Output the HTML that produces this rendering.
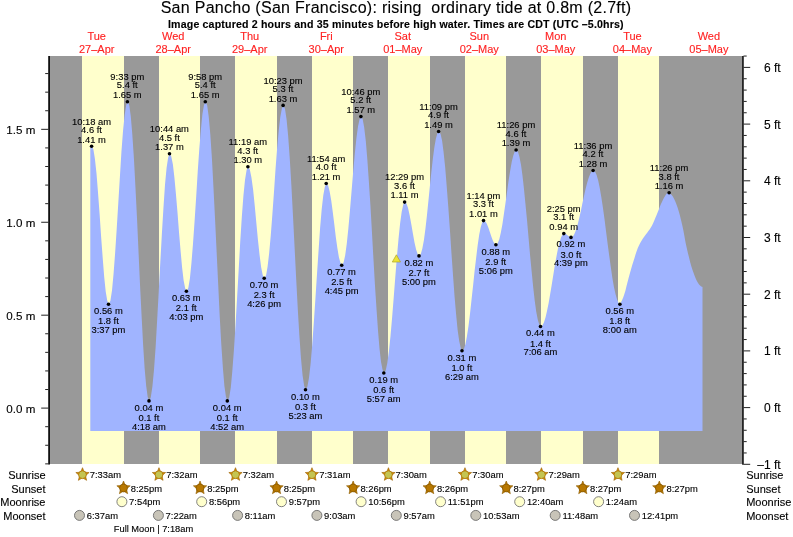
<!DOCTYPE html><html><head><meta charset="utf-8"><title>San Pancho tide chart</title><style>html,body{margin:0;padding:0;background:#fff}svg{display:block}text{font-family:"Liberation Sans",Arial,Helvetica,sans-serif;fill:#000;stroke:#000;stroke-width:0.12px}</style></head><body>
<svg width="793" height="537" viewBox="0 0 793 537">
<rect width="793" height="537" fill="#fff"/>
<rect x="50" y="56" width="693" height="408" fill="#999"/>
<rect x="82" y="56" width="42" height="408" fill="#ffffcc"/>
<rect x="159" y="56" width="41" height="408" fill="#ffffcc"/>
<rect x="235" y="56" width="42" height="408" fill="#ffffcc"/>
<rect x="312" y="56" width="41" height="408" fill="#ffffcc"/>
<rect x="388" y="56" width="42" height="408" fill="#ffffcc"/>
<rect x="465" y="56" width="41" height="408" fill="#ffffcc"/>
<rect x="541" y="56" width="42" height="408" fill="#ffffcc"/>
<rect x="618" y="56" width="41" height="408" fill="#ffffcc"/>
<path d="M90.3 431.0 L90.3 146.2 L91.9 146.2 L93.4 149.4 L94.9 158.8 L96.5 173.5 L98.0 192.4 L99.6 213.9 L101.1 236.4 L102.7 258.0 L104.2 276.9 L105.7 291.6 L107.3 301.0 L108.8 304.2 L110.4 300.7 L112.0 290.6 L113.5 274.5 L115.1 253.5 L116.7 229.1 L118.3 202.9 L119.9 176.7 L121.4 152.3 L123.0 131.3 L124.6 115.2 L126.2 105.1 L127.7 101.6 L129.3 105.4 L130.8 116.4 L132.3 134.3 L133.9 157.9 L135.4 186.3 L137.0 217.9 L138.5 251.2 L140.0 284.5 L141.6 316.1 L143.1 344.5 L144.6 368.1 L146.2 386.0 L147.7 397.0 L149.3 400.8 L150.8 397.2 L152.4 386.6 L154.0 369.7 L155.6 347.4 L157.1 321.0 L158.7 292.1 L160.3 262.3 L161.9 233.4 L163.5 207.0 L165.0 184.7 L166.6 167.8 L168.2 157.2 L169.8 153.7 L171.3 156.4 L172.9 164.6 L174.4 177.4 L175.9 193.8 L177.5 212.6 L179.0 232.2 L180.6 251.0 L182.1 267.4 L183.6 280.2 L185.2 288.4 L186.7 291.1 L188.3 287.9 L189.9 278.5 L191.4 263.4 L193.0 243.8 L194.6 220.9 L196.2 196.4 L197.7 171.9 L199.3 149.0 L200.9 129.4 L202.4 114.3 L204.0 104.9 L205.6 101.6 L207.2 105.4 L208.7 116.4 L210.3 134.3 L211.9 157.9 L213.4 186.3 L215.0 217.9 L216.6 251.2 L218.2 284.5 L219.7 316.1 L221.3 344.5 L222.9 368.1 L224.4 386.0 L226.0 397.0 L227.6 400.8 L229.2 397.4 L230.8 387.4 L232.3 371.3 L233.9 350.2 L235.5 325.2 L237.1 297.8 L238.7 269.6 L240.2 242.2 L241.8 217.2 L243.4 196.1 L245.0 180.1 L246.6 170.1 L248.2 166.7 L249.8 169.4 L251.4 177.3 L253.1 189.6 L254.7 205.2 L256.3 222.4 L257.9 239.6 L259.6 255.2 L261.2 267.5 L262.8 275.4 L264.5 278.1 L266.1 275.2 L267.6 266.6 L269.2 252.8 L270.8 234.9 L272.4 214.1 L274.0 191.7 L275.5 169.4 L277.1 148.5 L278.7 130.7 L280.3 116.9 L281.9 108.3 L283.4 105.3 L285.0 108.9 L286.6 119.4 L288.2 136.4 L289.8 158.9 L291.4 185.8 L293.0 215.9 L294.6 247.5 L296.2 279.1 L297.8 309.2 L299.4 336.1 L301.0 358.6 L302.6 375.5 L304.2 386.1 L305.8 389.6 L307.4 386.6 L309.0 377.8 L310.6 363.7 L312.2 345.1 L313.8 323.1 L315.4 298.9 L317.0 274.1 L318.6 249.9 L320.1 227.9 L321.7 209.3 L323.3 195.2 L324.9 186.4 L326.5 183.4 L328.1 185.4 L329.6 191.2 L331.2 200.2 L332.7 211.6 L334.3 224.3 L335.8 236.9 L337.4 248.3 L338.9 257.3 L340.5 263.1 L342.0 265.1 L343.6 262.6 L345.2 255.2 L346.8 243.4 L348.4 228.0 L350.0 210.0 L351.6 190.8 L353.2 171.6 L354.8 153.7 L356.4 138.3 L358.0 126.5 L359.6 119.0 L361.2 116.5 L362.7 119.3 L364.2 127.6 L365.8 141.0 L367.3 158.9 L368.8 180.6 L370.4 205.1 L371.9 231.3 L373.4 258.1 L374.9 284.3 L376.5 308.8 L378.0 330.5 L379.5 348.4 L381.0 361.8 L382.6 370.1 L384.1 372.9 L385.7 370.4 L387.3 363.1 L388.9 351.4 L390.5 336.0 L392.1 317.7 L393.7 297.7 L395.3 277.1 L396.9 257.1 L398.5 238.9 L400.1 223.5 L401.7 211.8 L403.3 204.4 L404.9 202.0 L406.5 203.6 L408.1 208.3 L409.7 215.4 L411.3 224.2 L412.9 233.6 L414.5 242.4 L416.1 249.5 L417.7 254.2 L419.3 255.8 L420.8 254.0 L422.3 248.7 L423.9 240.2 L425.4 229.0 L426.9 215.7 L428.4 201.1 L429.9 186.1 L431.4 171.5 L432.9 158.2 L434.4 147.0 L435.9 138.5 L437.4 133.2 L438.9 131.4 L440.5 133.8 L442.1 140.8 L443.6 152.3 L445.2 167.6 L446.7 186.2 L448.3 207.1 L449.9 229.5 L451.4 252.4 L453.0 274.9 L454.5 295.8 L456.1 314.3 L457.6 329.7 L459.2 341.1 L460.8 348.2 L462.3 350.6 L463.9 349.0 L465.4 344.2 L466.9 336.4 L468.5 326.1 L470.0 313.8 L471.5 300.0 L473.1 285.6 L474.6 271.1 L476.2 257.4 L477.7 245.0 L479.2 234.7 L480.8 227.0 L482.3 222.2 L483.8 220.5 L485.4 221.5 L486.9 224.1 L488.5 228.0 L490.0 232.6 L491.6 237.2 L493.1 241.2 L494.6 243.8 L496.2 244.7 L497.7 243.3 L499.3 239.3 L500.8 232.8 L502.4 224.2 L503.9 214.1 L505.5 203.0 L507.1 191.6 L508.6 180.5 L510.2 170.4 L511.7 161.9 L513.3 155.4 L514.8 151.3 L516.4 149.9 L517.9 151.6 L519.4 156.7 L521.0 164.8 L522.5 175.8 L524.0 189.2 L525.5 204.4 L527.1 221.0 L528.6 238.2 L530.1 255.4 L531.7 272.0 L533.2 287.2 L534.7 300.6 L536.2 311.6 L537.8 319.7 L539.3 324.8 L540.8 326.4 L542.4 325.4 L543.9 322.4 L545.5 317.6 L547.0 311.1 L548.6 303.2 L550.1 294.4 L551.7 284.9 L553.3 275.1 L554.8 265.6 L556.4 256.8 L557.9 248.9 L559.5 242.4 L561.0 237.6 L562.6 234.6 L564.1 233.5 L565.9 234.1 L567.7 235.4 L569.5 236.7 L571.3 237.3 L572.9 236.4 L574.4 234.0 L576.0 230.0 L577.6 224.7 L579.2 218.3 L580.8 211.3 L582.3 203.8 L583.9 196.4 L585.5 189.3 L587.1 183.0 L588.7 177.7 L590.3 173.7 L591.8 171.2 L593.4 170.4 L595.0 171.5 L596.6 174.9 L598.2 180.4 L599.7 187.8 L601.3 197.0 L602.9 207.4 L604.5 219.0 L606.0 231.1 L607.6 243.4 L609.2 255.6 L610.8 267.1 L612.3 277.6 L613.9 286.7 L615.5 294.1 L617.1 299.6 L618.6 303.0 L620.2 304.2 L620.9 302.6 L622.0 300.3 L623.2 297.5 L624.3 294.3 L625.4 290.7 L626.4 286.5 L627.5 282.2 L628.6 278.0 L629.7 273.9 L630.9 269.7 L632.1 265.6 L633.3 261.7 L634.5 257.9 L635.6 254.3 L636.7 250.9 L637.9 247.8 L639.1 245.2 L640.2 242.9 L641.4 240.9 L642.6 239.0 L643.8 237.3 L644.9 235.7 L646.0 234.3 L647.2 232.7 L648.4 231.1 L649.6 229.5 L650.7 227.7 L651.9 225.7 L653.1 223.3 L654.2 220.7 L655.3 218.0 L656.5 215.2 L657.7 212.3 L658.9 209.3 L660.0 206.3 L661.2 203.6 L662.4 201.0 L663.6 198.6 L664.8 196.5 L665.8 194.8 L666.6 193.7 L667.2 193.0 L667.8 192.6 L668.6 192.7 L669.5 193.1 L670.6 193.9 L671.7 195.0 L672.8 196.6 L673.9 198.6 L675.1 201.0 L676.2 203.8 L677.4 207.1 L678.6 210.8 L679.8 215.0 L680.9 219.6 L682.1 224.5 L683.3 230.0 L684.4 236.1 L685.5 242.2 L686.7 247.8 L687.9 252.9 L689.1 257.8 L690.2 262.3 L691.4 266.4 L692.6 270.2 L693.8 273.6 L694.9 276.6 L696.0 279.2 L697.0 281.2 L697.9 282.8 L698.7 284.0 L699.5 285.0 L700.4 285.8 L701.2 286.4 L702.0 286.7 L702.5 287.0 L702.5 431.0 Z" fill="#a0b4ff"/>
<g stroke="#111">
<line x1="49.1" y1="56" x2="49.1" y2="464.6" stroke-width="1.8"/>
<line x1="742.95" y1="56" x2="742.95" y2="464.8" stroke-width="1.6"/>
</g><g stroke="#222" stroke-width="1">
<line x1="45.2" y1="463.86" x2="48.5" y2="463.86"/>
<line x1="45.2" y1="445.27" x2="48.5" y2="445.27"/>
<line x1="45.2" y1="426.69" x2="48.5" y2="426.69"/>
<line x1="41.2" y1="408.10" x2="48.5" y2="408.10"/>
<line x1="45.2" y1="389.52" x2="48.5" y2="389.52"/>
<line x1="45.2" y1="370.93" x2="48.5" y2="370.93"/>
<line x1="45.2" y1="352.35" x2="48.5" y2="352.35"/>
<line x1="45.2" y1="333.76" x2="48.5" y2="333.76"/>
<line x1="41.2" y1="315.18" x2="48.5" y2="315.18"/>
<line x1="45.2" y1="296.59" x2="48.5" y2="296.59"/>
<line x1="45.2" y1="278.00" x2="48.5" y2="278.00"/>
<line x1="45.2" y1="259.42" x2="48.5" y2="259.42"/>
<line x1="45.2" y1="240.84" x2="48.5" y2="240.84"/>
<line x1="41.2" y1="222.25" x2="48.5" y2="222.25"/>
<line x1="45.2" y1="203.67" x2="48.5" y2="203.67"/>
<line x1="45.2" y1="185.08" x2="48.5" y2="185.08"/>
<line x1="45.2" y1="166.50" x2="48.5" y2="166.50"/>
<line x1="45.2" y1="147.91" x2="48.5" y2="147.91"/>
<line x1="41.2" y1="129.33" x2="48.5" y2="129.33"/>
<line x1="45.2" y1="110.74" x2="48.5" y2="110.74"/>
<line x1="45.2" y1="92.16" x2="48.5" y2="92.16"/>
<line x1="45.2" y1="73.57" x2="48.5" y2="73.57"/>
<line x1="743.5" y1="464.30" x2="750.2" y2="464.30"/>
<line x1="743.5" y1="452.96" x2="746.7" y2="452.96"/>
<line x1="743.5" y1="441.62" x2="746.7" y2="441.62"/>
<line x1="743.5" y1="430.28" x2="746.7" y2="430.28"/>
<line x1="743.5" y1="418.94" x2="746.7" y2="418.94"/>
<line x1="743.5" y1="407.60" x2="750.2" y2="407.60"/>
<line x1="743.5" y1="396.26" x2="746.7" y2="396.26"/>
<line x1="743.5" y1="384.92" x2="746.7" y2="384.92"/>
<line x1="743.5" y1="373.58" x2="746.7" y2="373.58"/>
<line x1="743.5" y1="362.24" x2="746.7" y2="362.24"/>
<line x1="743.5" y1="350.90" x2="750.2" y2="350.90"/>
<line x1="743.5" y1="339.56" x2="746.7" y2="339.56"/>
<line x1="743.5" y1="328.22" x2="746.7" y2="328.22"/>
<line x1="743.5" y1="316.88" x2="746.7" y2="316.88"/>
<line x1="743.5" y1="305.54" x2="746.7" y2="305.54"/>
<line x1="743.5" y1="294.20" x2="750.2" y2="294.20"/>
<line x1="743.5" y1="282.86" x2="746.7" y2="282.86"/>
<line x1="743.5" y1="271.52" x2="746.7" y2="271.52"/>
<line x1="743.5" y1="260.18" x2="746.7" y2="260.18"/>
<line x1="743.5" y1="248.84" x2="746.7" y2="248.84"/>
<line x1="743.5" y1="237.50" x2="750.2" y2="237.50"/>
<line x1="743.5" y1="226.16" x2="746.7" y2="226.16"/>
<line x1="743.5" y1="214.82" x2="746.7" y2="214.82"/>
<line x1="743.5" y1="203.48" x2="746.7" y2="203.48"/>
<line x1="743.5" y1="192.14" x2="746.7" y2="192.14"/>
<line x1="743.5" y1="180.80" x2="750.2" y2="180.80"/>
<line x1="743.5" y1="169.46" x2="746.7" y2="169.46"/>
<line x1="743.5" y1="158.12" x2="746.7" y2="158.12"/>
<line x1="743.5" y1="146.78" x2="746.7" y2="146.78"/>
<line x1="743.5" y1="135.44" x2="746.7" y2="135.44"/>
<line x1="743.5" y1="124.10" x2="750.2" y2="124.10"/>
<line x1="743.5" y1="112.76" x2="746.7" y2="112.76"/>
<line x1="743.5" y1="101.42" x2="746.7" y2="101.42"/>
<line x1="743.5" y1="90.08" x2="746.7" y2="90.08"/>
<line x1="743.5" y1="78.74" x2="746.7" y2="78.74"/>
<line x1="743.5" y1="67.40" x2="750.2" y2="67.40"/>
<line x1="743.5" y1="56.06" x2="746.7" y2="56.06"/>
</g>
<text x="35.3" y="412.6" font-size="11.6" text-anchor="end">0.0 m</text>
<text x="35.3" y="319.6" font-size="11.6" text-anchor="end">0.5 m</text>
<text x="35.3" y="226.7" font-size="11.6" text-anchor="end">1.0 m</text>
<text x="35.3" y="133.8" font-size="11.6" text-anchor="end">1.5 m</text>
<text x="780.6" y="468.7" font-size="12" text-anchor="end">–1 ft</text>
<text x="780.6" y="412.0" font-size="12" text-anchor="end">0 ft</text>
<text x="780.6" y="355.3" font-size="12" text-anchor="end">1 ft</text>
<text x="780.6" y="298.6" font-size="12" text-anchor="end">2 ft</text>
<text x="780.6" y="241.9" font-size="12" text-anchor="end">3 ft</text>
<text x="780.6" y="185.2" font-size="12" text-anchor="end">4 ft</text>
<text x="780.6" y="128.5" font-size="12" text-anchor="end">5 ft</text>
<text x="780.6" y="71.8" font-size="12" text-anchor="end">6 ft</text>
<text x="395.9" y="13.1" font-size="16" text-anchor="middle" textLength="470.5" lengthAdjust="spacing" style="white-space:pre;stroke-width:0.1px">San Pancho (San Francisco): rising  ordinary tide at 0.8m (2.7ft)</text>
<text x="395.8" y="27.5" font-size="10.6" font-weight="bold" text-anchor="middle" textLength="455.6" lengthAdjust="spacing">Image captured 2 hours and 35 minutes before high water. Times are CDT (UTC –5.0hrs)</text>
<text x="96.7" y="39.7" font-size="11" text-anchor="middle" style="fill:#f22;stroke:#f22">Tue</text>
<text x="96.7" y="52.7" font-size="11" text-anchor="middle" style="fill:#f22;stroke:#f22">27–Apr</text>
<text x="173.2" y="39.7" font-size="11" text-anchor="middle" style="fill:#f22;stroke:#f22">Wed</text>
<text x="173.2" y="52.7" font-size="11" text-anchor="middle" style="fill:#f22;stroke:#f22">28–Apr</text>
<text x="249.7" y="39.7" font-size="11" text-anchor="middle" style="fill:#f22;stroke:#f22">Thu</text>
<text x="249.7" y="52.7" font-size="11" text-anchor="middle" style="fill:#f22;stroke:#f22">29–Apr</text>
<text x="326.3" y="39.7" font-size="11" text-anchor="middle" style="fill:#f22;stroke:#f22">Fri</text>
<text x="326.3" y="52.7" font-size="11" text-anchor="middle" style="fill:#f22;stroke:#f22">30–Apr</text>
<text x="402.8" y="39.7" font-size="11" text-anchor="middle" style="fill:#f22;stroke:#f22">Sat</text>
<text x="402.8" y="52.7" font-size="11" text-anchor="middle" style="fill:#f22;stroke:#f22">01–May</text>
<text x="479.3" y="39.7" font-size="11" text-anchor="middle" style="fill:#f22;stroke:#f22">Sun</text>
<text x="479.3" y="52.7" font-size="11" text-anchor="middle" style="fill:#f22;stroke:#f22">02–May</text>
<text x="555.8" y="39.7" font-size="11" text-anchor="middle" style="fill:#f22;stroke:#f22">Mon</text>
<text x="555.8" y="52.7" font-size="11" text-anchor="middle" style="fill:#f22;stroke:#f22">03–May</text>
<text x="632.4" y="39.7" font-size="11" text-anchor="middle" style="fill:#f22;stroke:#f22">Tue</text>
<text x="632.4" y="52.7" font-size="11" text-anchor="middle" style="fill:#f22;stroke:#f22">04–May</text>
<text x="708.9" y="39.7" font-size="11" text-anchor="middle" style="fill:#f22;stroke:#f22">Wed</text>
<text x="708.9" y="52.7" font-size="11" text-anchor="middle" style="fill:#f22;stroke:#f22">05–May</text>
<circle cx="91.6" cy="146.3" r="1.8" fill="#000"/>
<text x="91.5" y="124.6" font-size="9.4" text-anchor="middle">10:18 am</text>
<text x="91.5" y="133.0" font-size="9.4" text-anchor="middle">4.6 ft</text>
<text x="91.5" y="142.6" font-size="9.4" text-anchor="middle">1.41 m</text>
<circle cx="108.5" cy="304.3" r="1.8" fill="#000"/>
<text x="108.4" y="314.2" font-size="9.4" text-anchor="middle">0.56 m</text>
<text x="108.4" y="324.4" font-size="9.4" text-anchor="middle">1.8 ft</text>
<text x="108.4" y="333.2" font-size="9.4" text-anchor="middle">3:37 pm</text>
<circle cx="127.4" cy="101.7" r="1.8" fill="#000"/>
<text x="127.3" y="80.0" font-size="9.4" text-anchor="middle">9:33 pm</text>
<text x="127.3" y="88.4" font-size="9.4" text-anchor="middle">5.4 ft</text>
<text x="127.3" y="98.0" font-size="9.4" text-anchor="middle">1.65 m</text>
<circle cx="149.0" cy="400.9" r="1.8" fill="#000"/>
<text x="148.9" y="410.8" font-size="9.4" text-anchor="middle">0.04 m</text>
<text x="148.9" y="421.0" font-size="9.4" text-anchor="middle">0.1 ft</text>
<text x="148.9" y="429.8" font-size="9.4" text-anchor="middle">4:18 am</text>
<circle cx="169.5" cy="153.8" r="1.8" fill="#000"/>
<text x="169.4" y="132.1" font-size="9.4" text-anchor="middle">10:44 am</text>
<text x="169.4" y="140.5" font-size="9.4" text-anchor="middle">4.5 ft</text>
<text x="169.4" y="150.1" font-size="9.4" text-anchor="middle">1.37 m</text>
<circle cx="186.4" cy="291.2" r="1.8" fill="#000"/>
<text x="186.3" y="301.1" font-size="9.4" text-anchor="middle">0.63 m</text>
<text x="186.3" y="311.3" font-size="9.4" text-anchor="middle">2.1 ft</text>
<text x="186.3" y="320.1" font-size="9.4" text-anchor="middle">4:03 pm</text>
<circle cx="205.3" cy="101.7" r="1.8" fill="#000"/>
<text x="205.2" y="80.0" font-size="9.4" text-anchor="middle">9:58 pm</text>
<text x="205.2" y="88.4" font-size="9.4" text-anchor="middle">5.4 ft</text>
<text x="205.2" y="98.0" font-size="9.4" text-anchor="middle">1.65 m</text>
<circle cx="227.3" cy="400.9" r="1.8" fill="#000"/>
<text x="227.2" y="410.8" font-size="9.4" text-anchor="middle">0.04 m</text>
<text x="227.2" y="421.0" font-size="9.4" text-anchor="middle">0.1 ft</text>
<text x="227.2" y="429.8" font-size="9.4" text-anchor="middle">4:52 am</text>
<circle cx="247.9" cy="166.8" r="1.8" fill="#000"/>
<text x="247.8" y="145.1" font-size="9.4" text-anchor="middle">11:19 am</text>
<text x="247.8" y="153.5" font-size="9.4" text-anchor="middle">4.3 ft</text>
<text x="247.8" y="163.1" font-size="9.4" text-anchor="middle">1.30 m</text>
<circle cx="264.2" cy="278.2" r="1.8" fill="#000"/>
<text x="264.1" y="288.1" font-size="9.4" text-anchor="middle">0.70 m</text>
<text x="264.1" y="298.3" font-size="9.4" text-anchor="middle">2.3 ft</text>
<text x="264.1" y="307.1" font-size="9.4" text-anchor="middle">4:26 pm</text>
<circle cx="283.1" cy="105.4" r="1.8" fill="#000"/>
<text x="283.0" y="83.7" font-size="9.4" text-anchor="middle">10:23 pm</text>
<text x="283.0" y="92.1" font-size="9.4" text-anchor="middle">5.3 ft</text>
<text x="283.0" y="101.7" font-size="9.4" text-anchor="middle">1.63 m</text>
<circle cx="305.5" cy="389.7" r="1.8" fill="#000"/>
<text x="305.4" y="399.6" font-size="9.4" text-anchor="middle">0.10 m</text>
<text x="305.4" y="409.8" font-size="9.4" text-anchor="middle">0.3 ft</text>
<text x="305.4" y="418.6" font-size="9.4" text-anchor="middle">5:23 am</text>
<circle cx="326.2" cy="183.5" r="1.8" fill="#000"/>
<text x="326.1" y="161.8" font-size="9.4" text-anchor="middle">11:54 am</text>
<text x="326.1" y="170.2" font-size="9.4" text-anchor="middle">4.0 ft</text>
<text x="326.1" y="179.8" font-size="9.4" text-anchor="middle">1.21 m</text>
<circle cx="341.7" cy="265.2" r="1.8" fill="#000"/>
<text x="341.6" y="275.1" font-size="9.4" text-anchor="middle">0.77 m</text>
<text x="341.6" y="285.3" font-size="9.4" text-anchor="middle">2.5 ft</text>
<text x="341.6" y="294.1" font-size="9.4" text-anchor="middle">4:45 pm</text>
<circle cx="360.9" cy="116.6" r="1.8" fill="#000"/>
<text x="360.8" y="94.9" font-size="9.4" text-anchor="middle">10:46 pm</text>
<text x="360.8" y="103.3" font-size="9.4" text-anchor="middle">5.2 ft</text>
<text x="360.8" y="112.9" font-size="9.4" text-anchor="middle">1.57 m</text>
<circle cx="383.8" cy="373.0" r="1.8" fill="#000"/>
<text x="383.7" y="382.9" font-size="9.4" text-anchor="middle">0.19 m</text>
<text x="383.7" y="393.1" font-size="9.4" text-anchor="middle">0.6 ft</text>
<text x="383.7" y="401.9" font-size="9.4" text-anchor="middle">5:57 am</text>
<circle cx="404.6" cy="202.1" r="1.8" fill="#000"/>
<text x="404.5" y="180.4" font-size="9.4" text-anchor="middle">12:29 pm</text>
<text x="404.5" y="188.8" font-size="9.4" text-anchor="middle">3.6 ft</text>
<text x="404.5" y="198.4" font-size="9.4" text-anchor="middle">1.11 m</text>
<circle cx="419.0" cy="255.9" r="1.8" fill="#000"/>
<text x="418.9" y="265.8" font-size="9.4" text-anchor="middle">0.82 m</text>
<text x="418.9" y="276.0" font-size="9.4" text-anchor="middle">2.7 ft</text>
<text x="418.9" y="284.8" font-size="9.4" text-anchor="middle">5:00 pm</text>
<circle cx="438.6" cy="131.5" r="1.8" fill="#000"/>
<text x="438.5" y="109.8" font-size="9.4" text-anchor="middle">11:09 pm</text>
<text x="438.5" y="118.2" font-size="9.4" text-anchor="middle">4.9 ft</text>
<text x="438.5" y="127.8" font-size="9.4" text-anchor="middle">1.49 m</text>
<circle cx="462.0" cy="350.7" r="1.8" fill="#000"/>
<text x="461.9" y="360.6" font-size="9.4" text-anchor="middle">0.31 m</text>
<text x="461.9" y="370.8" font-size="9.4" text-anchor="middle">1.0 ft</text>
<text x="461.9" y="379.6" font-size="9.4" text-anchor="middle">6:29 am</text>
<circle cx="483.5" cy="220.6" r="1.8" fill="#000"/>
<text x="483.4" y="198.9" font-size="9.4" text-anchor="middle">1:14 pm</text>
<text x="483.4" y="207.3" font-size="9.4" text-anchor="middle">3.3 ft</text>
<text x="483.4" y="216.9" font-size="9.4" text-anchor="middle">1.01 m</text>
<circle cx="495.9" cy="244.8" r="1.8" fill="#000"/>
<text x="495.8" y="254.7" font-size="9.4" text-anchor="middle">0.88 m</text>
<text x="495.8" y="264.9" font-size="9.4" text-anchor="middle">2.9 ft</text>
<text x="495.8" y="273.7" font-size="9.4" text-anchor="middle">5:06 pm</text>
<circle cx="516.1" cy="150.0" r="1.8" fill="#000"/>
<text x="516.0" y="128.3" font-size="9.4" text-anchor="middle">11:26 pm</text>
<text x="516.0" y="136.7" font-size="9.4" text-anchor="middle">4.6 ft</text>
<text x="516.0" y="146.3" font-size="9.4" text-anchor="middle">1.39 m</text>
<circle cx="540.5" cy="326.5" r="1.8" fill="#000"/>
<text x="540.4" y="336.4" font-size="9.4" text-anchor="middle">0.44 m</text>
<text x="540.4" y="346.6" font-size="9.4" text-anchor="middle">1.4 ft</text>
<text x="540.4" y="355.4" font-size="9.4" text-anchor="middle">7:06 am</text>
<circle cx="563.8" cy="233.6" r="1.8" fill="#000"/>
<text x="563.7" y="211.9" font-size="9.4" text-anchor="middle">2:25 pm</text>
<text x="563.7" y="220.3" font-size="9.4" text-anchor="middle">3.1 ft</text>
<text x="563.7" y="229.9" font-size="9.4" text-anchor="middle">0.94 m</text>
<circle cx="571.0" cy="237.4" r="1.8" fill="#000"/>
<text x="570.9" y="247.3" font-size="9.4" text-anchor="middle">0.92 m</text>
<text x="570.9" y="257.5" font-size="9.4" text-anchor="middle">3.0 ft</text>
<text x="570.9" y="266.3" font-size="9.4" text-anchor="middle">4:39 pm</text>
<circle cx="593.1" cy="170.5" r="1.8" fill="#000"/>
<text x="593.0" y="148.8" font-size="9.4" text-anchor="middle">11:36 pm</text>
<text x="593.0" y="157.2" font-size="9.4" text-anchor="middle">4.2 ft</text>
<text x="593.0" y="166.8" font-size="9.4" text-anchor="middle">1.28 m</text>
<circle cx="619.9" cy="304.3" r="1.8" fill="#000"/>
<text x="619.8" y="314.2" font-size="9.4" text-anchor="middle">0.56 m</text>
<text x="619.8" y="324.4" font-size="9.4" text-anchor="middle">1.8 ft</text>
<text x="619.8" y="333.2" font-size="9.4" text-anchor="middle">8:00 am</text>
<circle cx="669.1" cy="192.8" r="1.8" fill="#000"/>
<text x="669.0" y="171.1" font-size="9.4" text-anchor="middle">11:26 pm</text>
<text x="669.0" y="179.5" font-size="9.4" text-anchor="middle">3.8 ft</text>
<text x="669.0" y="189.1" font-size="9.4" text-anchor="middle">1.16 m</text>
<path d="M396.4 254.8 L400.5 262 L392.3 262 Z" fill="#ece436" stroke="#b0a428" stroke-width="0.7"/>
<text x="45.5" y="478.5" font-size="11" text-anchor="end">Sunrise</text>
<text x="746.2" y="478.5" font-size="11">Sunrise</text>
<text x="45.5" y="492.5" font-size="11" text-anchor="end">Sunset</text>
<text x="746.2" y="492.5" font-size="11">Sunset</text>
<text x="45.5" y="505.8" font-size="11" text-anchor="end">Moonrise</text>
<text x="746.2" y="505.8" font-size="11">Moonrise</text>
<text x="45.5" y="519.5" font-size="11" text-anchor="end">Moonset</text>
<text x="746.2" y="519.5" font-size="11">Moonset</text>
<path d="M82.49 467.70 L84.32 472.19 L89.15 472.54 L85.44 475.66 L86.61 480.36 L82.49 477.80 L78.38 480.36 L79.55 475.66 L75.84 472.54 L80.67 472.19 Z" fill="#d48a00" stroke="#9a6200" stroke-width="0.6"/><circle cx="82.49" cy="474.70" r="3.9" fill="#c4c452" stroke="#b07000" stroke-width="0.8"/>
<text x="89.7" y="478" font-size="9.4">7:33am</text>
<path d="M123.52 481.00 L125.34 485.49 L130.18 485.84 L126.47 488.96 L127.64 493.66 L123.52 491.10 L119.41 493.66 L120.57 488.96 L116.86 485.84 L121.70 485.49 Z" fill="#c07c00" stroke="#8a5a00" stroke-width="0.6"/><circle cx="123.52" cy="488.00" r="3.9" fill="#b87800" stroke="#8a5a00" stroke-width="0.8"/>
<text x="130.7" y="492.3" font-size="9.4">8:25pm</text>
<path d="M158.97 467.70 L160.79 472.19 L165.62 472.54 L161.92 475.66 L163.08 480.36 L158.97 477.80 L154.85 480.36 L156.02 475.66 L152.31 472.54 L157.15 472.19 Z" fill="#d48a00" stroke="#9a6200" stroke-width="0.6"/><circle cx="158.97" cy="474.70" r="3.9" fill="#c4c452" stroke="#b07000" stroke-width="0.8"/>
<text x="166.2" y="478" font-size="9.4">7:32am</text>
<path d="M200.05 481.00 L201.87 485.49 L206.70 485.84 L203.00 488.96 L204.16 493.66 L200.05 491.10 L195.93 493.66 L197.10 488.96 L193.39 485.84 L198.22 485.49 Z" fill="#c07c00" stroke="#8a5a00" stroke-width="0.6"/><circle cx="200.05" cy="488.00" r="3.9" fill="#b87800" stroke="#8a5a00" stroke-width="0.8"/>
<text x="207.2" y="492.3" font-size="9.4">8:25pm</text>
<path d="M235.49 467.70 L237.32 472.19 L242.15 472.54 L238.44 475.66 L239.61 480.36 L235.49 477.80 L231.38 480.36 L232.55 475.66 L228.84 472.54 L233.67 472.19 Z" fill="#d48a00" stroke="#9a6200" stroke-width="0.6"/><circle cx="235.49" cy="474.70" r="3.9" fill="#c4c452" stroke="#b07000" stroke-width="0.8"/>
<text x="242.7" y="478" font-size="9.4">7:32am</text>
<path d="M276.57 481.00 L278.40 485.49 L283.23 485.84 L279.52 488.96 L280.69 493.66 L276.57 491.10 L272.46 493.66 L273.63 488.96 L269.92 485.84 L274.75 485.49 Z" fill="#c07c00" stroke="#8a5a00" stroke-width="0.6"/><circle cx="276.57" cy="488.00" r="3.9" fill="#b87800" stroke="#8a5a00" stroke-width="0.8"/>
<text x="283.8" y="492.3" font-size="9.4">8:25pm</text>
<path d="M311.97 467.70 L313.79 472.19 L318.62 472.54 L314.92 475.66 L316.08 480.36 L311.97 477.80 L307.85 480.36 L309.02 475.66 L305.31 472.54 L310.14 472.19 Z" fill="#d48a00" stroke="#9a6200" stroke-width="0.6"/><circle cx="311.97" cy="474.70" r="3.9" fill="#c4c452" stroke="#b07000" stroke-width="0.8"/>
<text x="319.2" y="478" font-size="9.4">7:31am</text>
<path d="M353.15 481.00 L354.98 485.49 L359.81 485.84 L356.10 488.96 L357.27 493.66 L353.15 491.10 L349.04 493.66 L350.20 488.96 L346.50 485.84 L351.33 485.49 Z" fill="#c07c00" stroke="#8a5a00" stroke-width="0.6"/><circle cx="353.15" cy="488.00" r="3.9" fill="#b87800" stroke="#8a5a00" stroke-width="0.8"/>
<text x="360.4" y="492.3" font-size="9.4">8:26pm</text>
<path d="M388.44 467.70 L390.26 472.19 L395.10 472.54 L391.39 475.66 L392.55 480.36 L388.44 477.80 L384.33 480.36 L385.49 475.66 L381.78 472.54 L386.62 472.19 Z" fill="#d48a00" stroke="#9a6200" stroke-width="0.6"/><circle cx="388.44" cy="474.70" r="3.9" fill="#c4c452" stroke="#b07000" stroke-width="0.8"/>
<text x="395.6" y="478" font-size="9.4">7:30am</text>
<path d="M429.68 481.00 L431.50 485.49 L436.34 485.84 L432.63 488.96 L433.79 493.66 L429.68 491.10 L425.56 493.66 L426.73 488.96 L423.02 485.84 L427.86 485.49 Z" fill="#c07c00" stroke="#8a5a00" stroke-width="0.6"/><circle cx="429.68" cy="488.00" r="3.9" fill="#b87800" stroke="#8a5a00" stroke-width="0.8"/>
<text x="436.9" y="492.3" font-size="9.4">8:26pm</text>
<path d="M464.97 467.70 L466.79 472.19 L471.62 472.54 L467.91 475.66 L469.08 480.36 L464.97 477.80 L460.85 480.36 L462.02 475.66 L458.31 472.54 L463.14 472.19 Z" fill="#d48a00" stroke="#9a6200" stroke-width="0.6"/><circle cx="464.97" cy="474.70" r="3.9" fill="#c4c452" stroke="#b07000" stroke-width="0.8"/>
<text x="472.2" y="478" font-size="9.4">7:30am</text>
<path d="M506.26 481.00 L508.08 485.49 L512.92 485.84 L509.21 488.96 L510.37 493.66 L506.26 491.10 L502.14 493.66 L503.31 488.96 L499.60 485.84 L504.44 485.49 Z" fill="#c07c00" stroke="#8a5a00" stroke-width="0.6"/><circle cx="506.26" cy="488.00" r="3.9" fill="#b87800" stroke="#8a5a00" stroke-width="0.8"/>
<text x="513.5" y="492.3" font-size="9.4">8:27pm</text>
<path d="M541.44 467.70 L543.26 472.19 L548.10 472.54 L544.39 475.66 L545.55 480.36 L541.44 477.80 L537.33 480.36 L538.49 475.66 L534.78 472.54 L539.62 472.19 Z" fill="#d48a00" stroke="#9a6200" stroke-width="0.6"/><circle cx="541.44" cy="474.70" r="3.9" fill="#c4c452" stroke="#b07000" stroke-width="0.8"/>
<text x="548.6" y="478" font-size="9.4">7:29am</text>
<path d="M582.79 481.00 L584.61 485.49 L589.44 485.84 L585.73 488.96 L586.90 493.66 L582.79 491.10 L578.67 493.66 L579.84 488.96 L576.13 485.84 L580.96 485.49 Z" fill="#c07c00" stroke="#8a5a00" stroke-width="0.6"/><circle cx="582.79" cy="488.00" r="3.9" fill="#b87800" stroke="#8a5a00" stroke-width="0.8"/>
<text x="590.0" y="492.3" font-size="9.4">8:27pm</text>
<path d="M617.97 467.70 L619.79 472.19 L624.62 472.54 L620.91 475.66 L622.08 480.36 L617.97 477.80 L613.85 480.36 L615.02 475.66 L611.31 472.54 L616.14 472.19 Z" fill="#d48a00" stroke="#9a6200" stroke-width="0.6"/><circle cx="617.97" cy="474.70" r="3.9" fill="#c4c452" stroke="#b07000" stroke-width="0.8"/>
<text x="625.2" y="478" font-size="9.4">7:29am</text>
<path d="M659.31 481.00 L661.13 485.49 L665.97 485.84 L662.26 488.96 L663.43 493.66 L659.31 491.10 L655.20 493.66 L656.36 488.96 L652.65 485.84 L657.49 485.49 Z" fill="#c07c00" stroke="#8a5a00" stroke-width="0.6"/><circle cx="659.31" cy="488.00" r="3.9" fill="#b87800" stroke="#8a5a00" stroke-width="0.8"/>
<text x="666.5" y="492.3" font-size="9.4">8:27pm</text>
<circle cx="121.9" cy="501.7" r="5" fill="#ffffcc" stroke="#747474" stroke-width="0.9"/>
<text x="129.1" y="505.4" font-size="9.4">7:54pm</text>
<circle cx="201.7" cy="501.7" r="5" fill="#ffffcc" stroke="#747474" stroke-width="0.9"/>
<text x="208.9" y="505.4" font-size="9.4">8:56pm</text>
<circle cx="281.5" cy="501.7" r="5" fill="#ffffcc" stroke="#747474" stroke-width="0.9"/>
<text x="288.7" y="505.4" font-size="9.4">9:57pm</text>
<circle cx="361.1" cy="501.7" r="5" fill="#ffffcc" stroke="#747474" stroke-width="0.9"/>
<text x="368.3" y="505.4" font-size="9.4">10:56pm</text>
<circle cx="440.6" cy="501.7" r="5" fill="#ffffcc" stroke="#747474" stroke-width="0.9"/>
<text x="447.8" y="505.4" font-size="9.4">11:51pm</text>
<circle cx="519.7" cy="501.7" r="5" fill="#ffffcc" stroke="#747474" stroke-width="0.9"/>
<text x="526.9" y="505.4" font-size="9.4">12:40am</text>
<circle cx="598.6" cy="501.7" r="5" fill="#ffffcc" stroke="#747474" stroke-width="0.9"/>
<text x="605.8" y="505.4" font-size="9.4">1:24am</text>
<circle cx="79.5" cy="515.4" r="5" fill="#c8c4b8" stroke="#6c6c6c" stroke-width="0.9"/>
<text x="86.7" y="518.9" font-size="9.4">6:37am</text>
<circle cx="158.4" cy="515.4" r="5" fill="#c8c4b8" stroke="#6c6c6c" stroke-width="0.9"/>
<text x="165.6" y="518.9" font-size="9.4">7:22am</text>
<circle cx="237.6" cy="515.4" r="5" fill="#c8c4b8" stroke="#6c6c6c" stroke-width="0.9"/>
<text x="244.8" y="518.9" font-size="9.4">8:11am</text>
<circle cx="316.9" cy="515.4" r="5" fill="#c8c4b8" stroke="#6c6c6c" stroke-width="0.9"/>
<text x="324.1" y="518.9" font-size="9.4">9:03am</text>
<circle cx="396.3" cy="515.4" r="5" fill="#c8c4b8" stroke="#6c6c6c" stroke-width="0.9"/>
<text x="403.5" y="518.9" font-size="9.4">9:57am</text>
<circle cx="475.8" cy="515.4" r="5" fill="#c8c4b8" stroke="#6c6c6c" stroke-width="0.9"/>
<text x="483.0" y="518.9" font-size="9.4">10:53am</text>
<circle cx="555.2" cy="515.4" r="5" fill="#c8c4b8" stroke="#6c6c6c" stroke-width="0.9"/>
<text x="562.4" y="518.9" font-size="9.4">11:48am</text>
<circle cx="634.5" cy="515.4" r="5" fill="#c8c4b8" stroke="#6c6c6c" stroke-width="0.9"/>
<text x="641.7" y="518.9" font-size="9.4">12:41pm</text>
<text x="113.8" y="532.1" font-size="9.3">Full Moon | 7:18am</text>
</svg></body></html>
